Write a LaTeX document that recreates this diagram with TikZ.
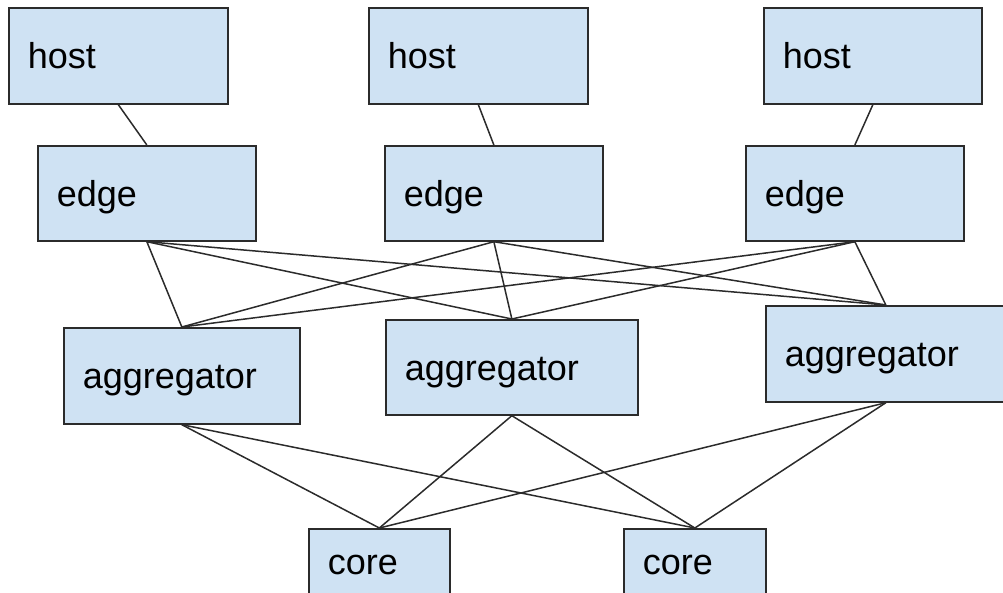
\documentclass[tikz,border=0pt]{standalone}
\usepackage{fontspec}
\setmainfont{Liberation Sans}
\definecolor{boxblue}{HTML}{CFE2F3}
\definecolor{linegray}{HTML}{2B2B2B}
\tikzset{
  box/.style={draw=linegray, line width=1.7pt, fill=boxblue, anchor=north west,
    align=left, inner xsep=19pt, inner ysep=0pt, text height=26pt, text depth=0pt,
    font=\fontsize{36}{40}\selectfont},
  link/.style={draw=linegray, line width=1.5pt}
}
\begin{document}
\begin{tikzpicture}[x=1pt,y=-1pt]
\useasboundingbox (0,0) rectangle (1003,592);
% hosts
\node[box, text width=181pt, minimum height=96pt] (h1) at (8,7) {host};
\node[box, text width=181pt, minimum height=96pt] (h2) at (368,7) {host};
\node[box, text width=180pt, minimum height=96pt] (h3) at (763,7) {host};
% edges
\node[box, text width=180pt, minimum height=95pt] (e1) at (37,145) {edge};
\node[box, text width=180pt, minimum height=95pt] (e2) at (384,145) {edge};
\node[box, text width=180pt, minimum height=95pt] (e3) at (745,145) {edge};
% aggregators
\node[box, text width=198pt, minimum height=96pt] (a1) at (63,327) {aggregator};
\node[box, text width=214pt, minimum height=95pt] (a2) at (385,319) {aggregator};
\node[box, text width=202pt, minimum height=96pt] (a3) at (765,305) {aggregator};
% cores
\node[box, text width=103pt, minimum height=66pt] (c1) at (308,528) {core};
\node[box, text width=104pt, minimum height=66pt] (c2) at (623,528) {core};
% host - edge
\draw[link] (h1.south) -- (e1.north);
\draw[link] (h2.south) -- (e2.north);
\draw[link] (h3.south) -- (e3.north);
% edge - aggregator
\foreach \e in {e1,e2,e3}{
  \foreach \a in {a1,a2,a3}{
    \draw[link] (\e.south) -- (\a.north);
  }
}
% aggregator - core
\foreach \a in {a1,a2,a3}{
  \foreach \c in {c1,c2}{
    \draw[link] (\a.south) -- (\c.north);
  }
}
\end{tikzpicture}
\end{document}
